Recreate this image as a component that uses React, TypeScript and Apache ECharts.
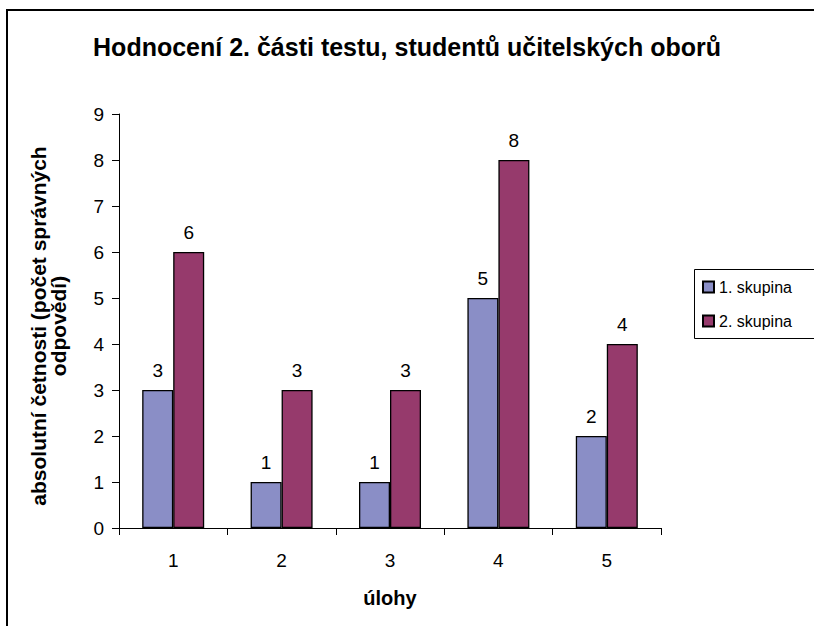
import React, { useEffect, useRef } from "react";
import * as echarts from "echarts";

const categories = ["1", "2", "3", "4", "5"];
const group1 = [3, 1, 1, 5, 2];
const group2 = [6, 3, 3, 8, 4];
const seriesNames = ["1. skupina", "2. skupina"];
const titleText = "Hodnocení 2. části testu, studentů učitelských oborů";
const yTitleLines = ["absolutní četnosti (počet správných", "odpovědí)"];
const xTitle = "úlohy";

const FONT = "'Liberation Sans', Arial, sans-serif";

export default function App() {
  const ref = useRef<HTMLDivElement>(null);
  useEffect(() => {
    if (!ref.current) return;
    const chart = echarts.init(ref.current, undefined, { renderer: "svg" });
    const labelStyle = {
      show: true,
      position: "top",
      distance: 10,
      fontSize: 19,
      color: "#000",
      fontFamily: FONT,
    };
    chart.setOption({
      animation: false,
      backgroundColor: "#fff",
      textStyle: { fontFamily: FONT },
      title: {
        text: titleText,
        left: "center",
        top: 29,
        textStyle: { fontSize: 25, fontWeight: "bold", color: "#000", fontFamily: FONT },
      },
      legend: {
        orient: "vertical",
        left: 697,
        top: 274,
        itemWidth: 11,
        itemHeight: 11,
        itemGap: 18,
        icon: "rect",
        textStyle: { fontSize: 16, color: "#000", fontFamily: FONT },
        data: seriesNames,
      },
      grid: { left: 119, right: 153, top: 114, bottom: 98 },
      xAxis: {
        type: "category",
        data: categories,
        name: xTitle,
        nameLocation: "middle",
        nameGap: 60,
        nameTextStyle: { fontSize: 20, fontWeight: "bold", color: "#000", fontFamily: FONT },
        axisLine: { lineStyle: { color: "#000", width: 1 } },
        axisTick: { show: true, length: 7, lineStyle: { color: "#000" } },
        axisLabel: { fontSize: 19, color: "#000", margin: 23, fontFamily: FONT },
      },
      yAxis: {
        type: "value",
        min: 0,
        max: 9,
        interval: 1,
        splitLine: { show: false },
        axisLine: { show: true, lineStyle: { color: "#000", width: 1 } },
        axisTick: { show: true, length: 7, lineStyle: { color: "#000" } },
        axisLabel: { fontSize: 19, color: "#000", margin: 15, fontFamily: FONT },
      },
      series: [
        {
          name: seriesNames[0],
          type: "bar",
          data: group1,
          barWidth: 31,
          barGap: "0%",
          itemStyle: { color: "#8A8EC6", borderColor: "#000", borderWidth: 1.3 },
          label: labelStyle,
        },
        {
          name: seriesNames[1],
          type: "bar",
          data: group2,
          barWidth: 31,
          barGap: "0%",
          itemStyle: { color: "#963A6C", borderColor: "#000", borderWidth: 1.3 },
          label: labelStyle,
        },
      ],
      graphic: [
        {
          type: "rect",
          shape: { x: 7, y: 10, width: 1000, height: 1000 },
          style: { fill: "none", stroke: "#000", lineWidth: 2 },
          silent: true,
        },
        {
          type: "rect",
          shape: { x: 694.5, y: 269.5, width: 200, height: 69 },
          style: { fill: "none", stroke: "#000", lineWidth: 1 },
          silent: true,
        },
        {
          type: "text",
          x: 48,
          y: 326,
          rotation: Math.PI / 2,
          style: {
            text: yTitleLines.join("\n"),
            fontSize: 21,
            fontWeight: "bold",
            fontFamily: FONT,
            fill: "#000",
            align: "center",
            verticalAlign: "middle",
            lineHeight: 20,
          },
        },
      ],
    });
    return () => chart.dispose();
  }, []);
  return (
    <div
      ref={ref}
      style={{ position: "fixed", left: 0, top: 0, width: 814, height: 626 }}
    />
  );
}
